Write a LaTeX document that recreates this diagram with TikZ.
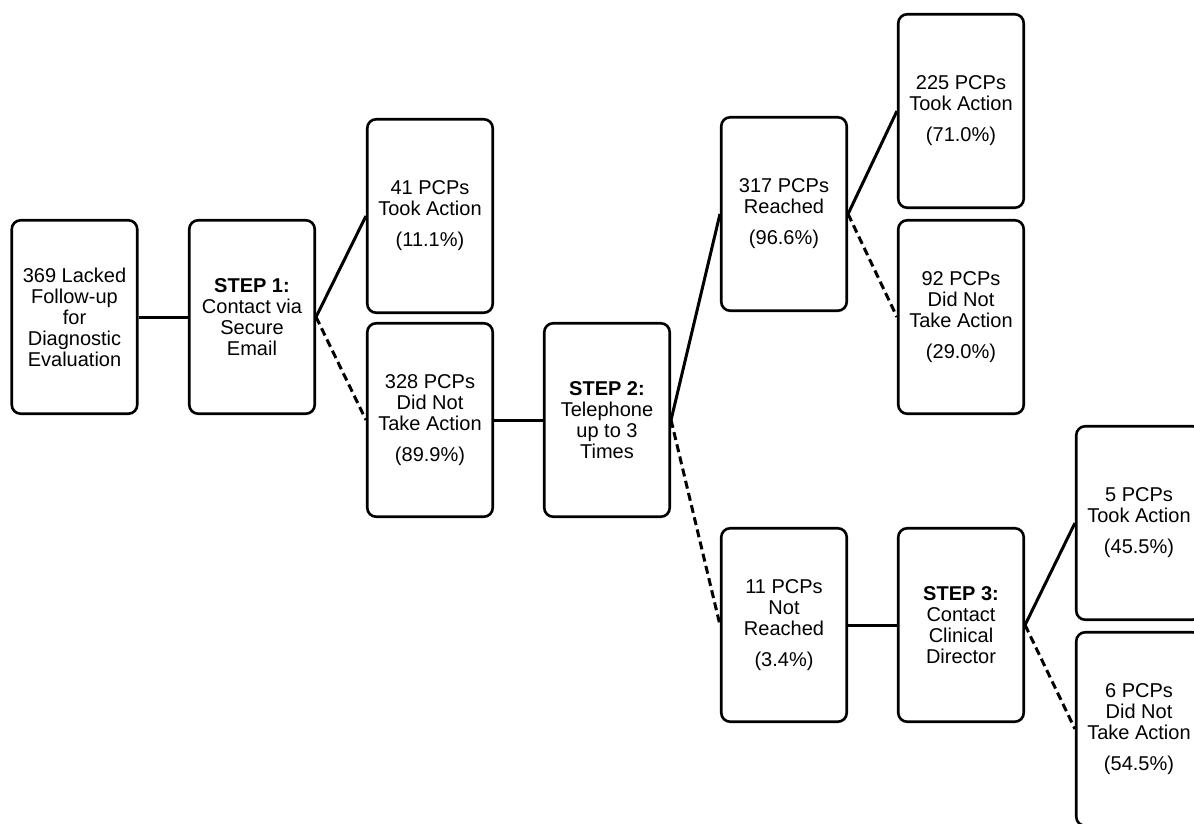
\documentclass[tikz,border=0pt]{standalone}
\usepackage{fontspec}
\setmainfont{Liberation Sans}
\begin{document}
\begin{tikzpicture}[x=1pt,y=-1pt,
  box/.style={draw=black, line width=2.6pt, rounded corners=9pt, fill=white,
    minimum width=125.5pt, minimum height=193.5pt, inner sep=0pt, align=center,
    font=\fontsize{20}{21}\selectfont},
  yes/.style={line width=3pt},
  no/.style={line width=3pt, dash pattern=on 8pt off 4.5pt}]
\useasboundingbox (0,0) rectangle (1194,824);
\clip (0,0) rectangle (1194,824);
\node[box] (n1) at (74.5,317) {369 Lacked\\Follow-up\\for\\Diagnostic\\Evaluation};
\node[box] (n2) at (252,317) {\textbf{STEP 1:}\\Contact via\\Secure\\Email};
\node[box] (n3) at (430,216) {41 PCPs\\Took Action\\[10pt](11.1\%)};
\node[box] (n4) at (430,420) {328 PCPs\\Did Not\\Take Action\\[10pt](89.9\%)};
\node[box] (n5) at (607,420) {\textbf{STEP 2:}\\Telephone\\up to 3\\Times};
\node[box] (n6) at (784,214) {317 PCPs\\Reached\\[10pt](96.6\%)};
\node[box] (n7) at (784,625) {11 PCPs\\Not\\Reached\\[10pt](3.4\%)};
\node[box] (n8) at (961,111) {225 PCPs\\Took Action\\[10pt](71.0\%)};
\node[box] (n9) at (961,317) {92 PCPs\\Did Not\\Take Action\\[10pt](29.0\%)};
\node[box] (n10) at (961,625) {\textbf{STEP 3:}\\Contact\\Clinical\\Director};
\node[box] (n11) at (1139,523) {5 PCPs\\Took Action\\[10pt](45.5\%)};
\node[box] (n12) at (1139,729) {6 PCPs\\Did Not\\Take Action\\[10pt](54.5\%)};
\draw[yes] (n1.east) -- (n2.west);
\draw[yes] (n2.east) -- (n3.west);
\draw[no] (n2.east) -- (n4.west);
\draw[yes] (n4.east) -- (n5.west);
\draw[yes] (n5.east) -- (n6.west);
\draw[no] (n5.east) -- (n7.west);
\draw[yes] (n6.east) -- (n8.west);
\draw[no] (n6.east) -- (n9.west);
\draw[yes] (n7.east) -- (n10.west);
\draw[yes] (n10.east) -- (n11.west);
\draw[no] (n10.east) -- (n12.west);
\end{tikzpicture}
\end{document}
